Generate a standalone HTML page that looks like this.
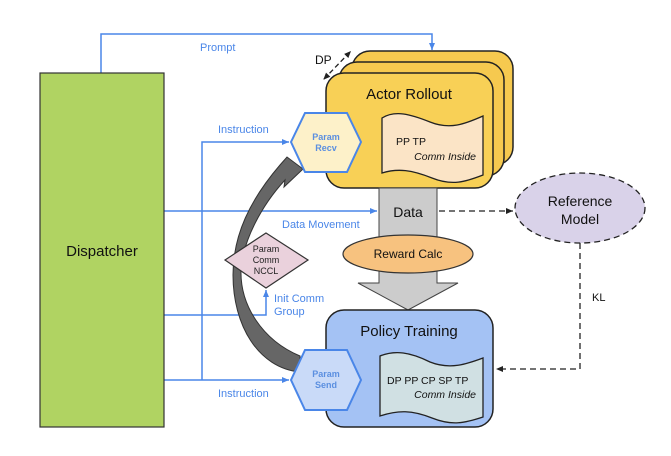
<!DOCTYPE html>
<html><head><meta charset="utf-8"><style>
html,body{margin:0;padding:0;background:#fff;}
svg{display:block;font-family:"Liberation Sans",sans-serif;}
</style></head><body>
<svg width="671" height="456" viewBox="0 0 671 456" xmlns="http://www.w3.org/2000/svg">
<defs>
<marker id="ab" markerWidth="8" markerHeight="8" refX="7" refY="4" orient="auto" markerUnits="userSpaceOnUse"><path d="M0,1 L7,4 L0,7 Z" fill="#4a86e8"/></marker>
<marker id="ak" markerWidth="8" markerHeight="8" refX="7" refY="4" orient="auto" markerUnits="userSpaceOnUse"><path d="M0,1 L7,4 L0,7 Z" fill="#222"/></marker>
<marker id="aks" markerWidth="8" markerHeight="8" refX="1" refY="4" orient="auto" markerUnits="userSpaceOnUse"><path d="M7,1 L0,4 L7,7 Z" fill="#222"/></marker>
</defs>

<g stroke="#4a86e8" stroke-width="1.5" fill="none">
<polyline points="101,73 101,34 432,34 432,50" marker-end="url(#ab)"/>
<line x1="164" y1="211" x2="377" y2="211" marker-end="url(#ab)"/>
<polyline points="164,315 266,315 266,290" marker-end="url(#ab)"/>
<line x1="164" y1="380" x2="289" y2="380" marker-end="url(#ab)"/>
<polyline points="202,380 202,142 289,142" marker-end="url(#ab)"/>
</g>
<text x="200" y="51" font-size="11" fill="#4a86e8">Prompt</text>
<text x="218" y="133" font-size="11" fill="#4a86e8">Instruction</text>
<text x="282" y="228" font-size="11" fill="#4a86e8">Data Movement</text>
<text x="274" y="302" font-size="11" fill="#4a86e8">Init Comm</text>
<text x="274" y="315" font-size="11" fill="#4a86e8">Group</text>
<text x="218" y="397" font-size="11" fill="#4a86e8">Instruction</text>

<rect x="40" y="73" width="124" height="354" fill="#b0d362" stroke="#333" stroke-width="1.2"/>
<text x="102" y="256" font-size="15" text-anchor="middle" fill="#111">Dispatcher</text>

<rect x="352" y="51" width="161" height="114" rx="18" fill="#f6c94f" stroke="#222" stroke-width="1.5"/>
<rect x="339" y="62" width="165" height="114" rx="18" fill="#f6c94f" stroke="#222" stroke-width="1.5"/>
<rect x="326" y="73" width="167" height="115" rx="18" fill="#f8d056" stroke="#222" stroke-width="1.5"/>
<text x="409" y="99" font-size="15" text-anchor="middle" fill="#111">Actor Rollout</text>
<path d="M382,118 C395,110 410,114 430,122 C450,130 465,124 483,116 L483,175 C465,182 452,186 432,178 C412,170 398,168 382,173 Z" fill="#fbe4c6" stroke="#222" stroke-width="1.3"/>
<text x="396" y="145" font-size="10.5" fill="#111">PP TP</text>
<text x="476" y="160" font-size="10.5" font-style="italic" text-anchor="end" fill="#111">Comm Inside</text>

<line x1="324" y1="79" x2="351" y2="51" stroke="#222" stroke-width="1.3" stroke-dasharray="5,3" marker-start="url(#aks)" marker-end="url(#ak)"/>
<text x="315" y="64" font-size="12" fill="#111">DP</text>

<path d="M379,188 L437,188 L437,283 L458,283 L408,310 L358,283 L379,283 Z" fill="#cccccc" stroke="#444" stroke-width="1"/>
<text x="408" y="217" font-size="14" text-anchor="middle" fill="#111">Data</text>
<ellipse cx="408" cy="254" rx="65" ry="19" fill="#f7c27f" stroke="#333" stroke-width="1.2"/>
<text x="408" y="258" font-size="12" text-anchor="middle" fill="#111">Reward Calc</text>

<rect x="326" y="310" width="167" height="117" rx="18" fill="#a4c2f4" stroke="#222" stroke-width="1.5"/>
<text x="409" y="336" font-size="15" text-anchor="middle" fill="#111">Policy Training</text>
<path d="M380,356 C395,350 410,352 430,362 C450,370 467,364 483,358 L483,417 C465,423 452,426 432,418 C412,410 398,410 380,416 Z" fill="#d0e0e3" stroke="#222" stroke-width="1.3"/>
<text x="387" y="384" font-size="10.5" fill="#111">DP PP CP SP TP</text>
<text x="476" y="398" font-size="10.5" font-style="italic" text-anchor="end" fill="#111">Comm Inside</text>

<ellipse cx="580" cy="208" rx="65" ry="35" fill="#d9d2e9" stroke="#222" stroke-width="1.3" stroke-dasharray="6,4"/>
<text x="580" y="206" font-size="14" text-anchor="middle" fill="#111">Reference</text>
<text x="580" y="224" font-size="14" text-anchor="middle" fill="#111">Model</text>
<line x1="439" y1="211" x2="513" y2="211" stroke="#222" stroke-width="1.3" stroke-dasharray="6,4" marker-end="url(#ak)"/>
<polyline points="580,243 580,369 496,369" fill="none" stroke="#222" stroke-width="1.3" stroke-dasharray="6,4" marker-end="url(#ak)"/>
<text x="592" y="301" font-size="11" fill="#111">KL</text>

<path d="M303,169 L284,187 L285,180 C262,205 243,240 241,270 C240,305 262,340 300,356 L300,372 C258,368 233,325 233,275 C233,235 250,200 280,165 L287,157 Z" fill="#666" stroke="#333" stroke-width="1"/>

<polygon points="266,233 308,260 266,288 225,260" fill="#ead1dc" stroke="#333" stroke-width="1.2"/>
<text x="266" y="252" font-size="9" text-anchor="middle" fill="#222">Param</text>
<text x="266" y="263" font-size="9" text-anchor="middle" fill="#222">Comm</text>
<text x="266" y="274" font-size="9" text-anchor="middle" fill="#222">NCCL</text>

<polygon points="291,142 305,113 347,113 361,142 347,172 305,172" fill="#fdf1c9" stroke="#4a86e8" stroke-width="2"/>
<text x="326" y="140" font-size="9" font-weight="bold" text-anchor="middle" fill="#5b8fe0">Param</text>
<text x="326" y="151" font-size="9" font-weight="bold" text-anchor="middle" fill="#5b8fe0">Recv</text>
<polygon points="291,380 305,350 347,350 361,380 347,410 305,410" fill="#c9daf8" stroke="#4a86e8" stroke-width="2"/>
<text x="326" y="377" font-size="9" font-weight="bold" text-anchor="middle" fill="#5b8fe0">Param</text>
<text x="326" y="388" font-size="9" font-weight="bold" text-anchor="middle" fill="#5b8fe0">Send</text>
</svg>
</body></html>
